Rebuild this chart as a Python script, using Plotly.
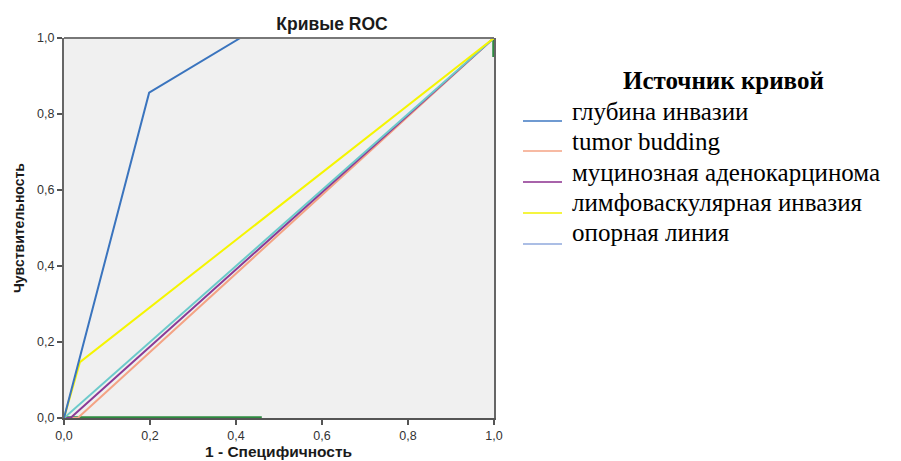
import plotly.graph_objects as go

# ROC curve data (1 - specificity, sensitivity)
depth_x = [0.0, 0.198, 0.41, 1.0]
depth_y = [0.0, 0.856, 1.0, 1.0]
budding_x = [0.0, 0.032, 1.0]
budding_y = [0.0, 0.0, 1.0]
mucin_x = [0.0, 0.015, 1.0]
mucin_y = [0.0, 0.0, 1.0]
lymph_x = [0.0, 0.037, 1.0]
lymph_y = [0.0, 0.147, 1.0]
ref_x = [0.0, 1.0]
ref_y = [0.0, 1.0]
green_x = [0.0, 0.46, None, 1.0, 1.0]
green_y = [0.0, 0.0, None, 0.95, 1.0]

tick_vals = [0.0, 0.2, 0.4, 0.6, 0.8, 1.0]
tick_text = ["0,0", "0,2", "0,4", "0,6", "0,8", "1,0"]

legend_names = ["глубина инвазии", "tumor budding", "муцинозная аденокарцинома",
                "лимфоваскулярная инвазия", "опорная линия"]
legend_colors = ["#3F78C2", "#F4A384", "#8B2F8E", "#F2F200", "#8FA9DC"]

fig = go.Figure()
fig.add_trace(go.Scatter(x=green_x, y=green_y, mode="lines",
                         line=dict(color="#2E8B40", width=3.5), showlegend=False))
fig.add_trace(go.Scatter(x=budding_x, y=budding_y, mode="lines",
                         line=dict(color="#F4A384", width=2), showlegend=False))
fig.add_trace(go.Scatter(x=mucin_x, y=mucin_y, mode="lines",
                         line=dict(color="#8B3A96", width=2), showlegend=False))
fig.add_trace(go.Scatter(x=ref_x, y=ref_y, mode="lines",
                         line=dict(color="#6CCACB", width=2), showlegend=False))
fig.add_trace(go.Scatter(x=lymph_x, y=lymph_y, mode="lines",
                         line=dict(color="#F5F500", width=2), showlegend=False))
fig.add_trace(go.Scatter(x=depth_x, y=depth_y, mode="lines",
                         line=dict(color="#3A74BE", width=2), showlegend=False))

# page-pixel layout (the page body has an 8px default margin)
OFF = 8
L, R, T, B = 64, 494, 38, 418
W, H = 901 - OFF, 461 - OFF

def px_x(p):
    return (p - L) / (R - L)

def px_y(p):
    return (B - p) / (B - T)

annotations = [
    dict(text="<b>Источник кривой</b>", x=px_x(723), y=px_y(80), xref="paper", yref="paper",
         showarrow=False, xanchor="center", yanchor="middle",
         font=dict(family="Liberation Serif", size=25, color="#000000")),
    dict(text="<b>1 - Специфичность</b>", x=px_x(278), y=px_y(451), xref="paper", yref="paper",
         showarrow=False, xanchor="center", yanchor="middle",
         font=dict(family="Liberation Sans", size=15.5, color="#1a1a1a")),
    dict(text="<b>Чувствительность</b>", x=px_x(19), y=px_y(228), xref="paper", yref="paper",
         showarrow=False, xanchor="center", yanchor="middle", textangle=-90,
         font=dict(family="Liberation Sans", size=14, color="#1a1a1a")),
]
shapes = [
    # top border of the plot frame, drawn over the curves
    dict(type="line", xref="paper", yref="paper", x0=0, x1=1, y0=1, y1=1,
         line=dict(color="#777777", width=2), layer="above"),
]
text_ys = [111, 141, 172, 202, 233]
line_ys = [121, 151, 182, 213, 244]
for name, col, ty, ly in zip(legend_names, legend_colors, text_ys, line_ys):
    annotations.append(dict(text=name, x=px_x(570), y=px_y(ty), xref="paper", yref="paper",
                            showarrow=False, xanchor="left", yanchor="middle",
                            font=dict(family="Liberation Serif", size=25, color="#000000")))
    shapes.append(dict(type="line", xref="paper", yref="paper",
                       x0=px_x(523), x1=px_x(562), y0=px_y(ly), y1=px_y(ly),
                       line=dict(color=col, width=1.5)))

fig.update_layout(
    width=W, height=H,
    margin=dict(l=L - OFF, r=W - (R - OFF), t=T - OFF, b=H - (B - OFF), pad=0),
    paper_bgcolor="#FFFFFF",
    plot_bgcolor="#F0F0F0",
    title=dict(text="<b>Кривые ROC</b>", x=(332 - OFF) / W, xref="container", xanchor="center",
               y=1 - (24 - OFF) / H, yref="container", yanchor="middle",
               font=dict(family="Liberation Sans", size=17.5, color="#1a1a1a")),
    annotations=annotations,
    shapes=shapes,
    showlegend=False,
)
fig.update_xaxes(range=[0, 1], tickvals=tick_vals, ticktext=tick_text, automargin=False,
                 showgrid=False, zeroline=False, showline=True, linecolor="#555555",
                 linewidth=2, mirror=False, ticks="outside", ticklen=5, tickwidth=2,
                 tickcolor="#555555", layer="below traces",
                 tickfont=dict(family="Liberation Sans", size=12.5, color="#333333"))
fig.update_yaxes(range=[0, 1], tickvals=tick_vals, ticktext=tick_text, automargin=False,
                 showgrid=False, zeroline=False, showline=True, linecolor="#666666",
                 linewidth=2, mirror=True, ticks="outside", ticklen=5, tickwidth=2,
                 tickcolor="#555555", layer="below traces",
                 tickfont=dict(family="Liberation Sans", size=12.5, color="#333333"))

fig.write_html("out.html")
